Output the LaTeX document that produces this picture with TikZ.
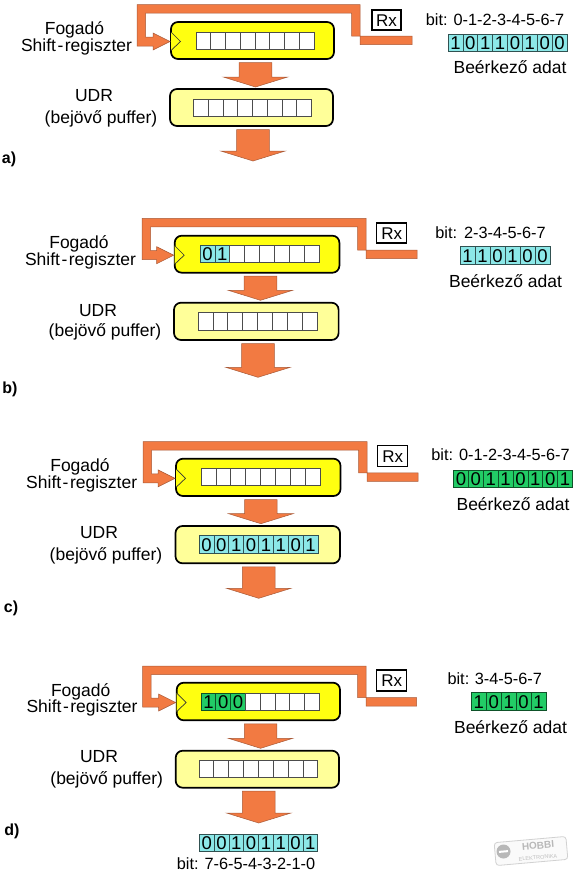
\documentclass[tikz,border=0pt]{standalone}
\usepackage{fontspec}
\setmainfont{Liberation Sans}
\usetikzlibrary{calc}
\definecolor{flow}{HTML}{F27A42}
\definecolor{flowline}{HTML}{A85A38}
\definecolor{regyellow}{HTML}{FFFF10}
\definecolor{udryellow}{HTML}{FFFF99}
\definecolor{cellcyan}{HTML}{8CE8E8}
\definecolor{cellgreen}{HTML}{22CC66}
\tikzset{
  x=1pt,y=-1pt,
  blockarrow/.style={fill=flow,draw=flowline,line width=0.5pt,line join=miter},
  regbase/.style={draw=black,line width=1.7pt,rounded corners=7pt,inner sep=0pt,outer sep=0pt},
  shiftreg/.style={regbase,fill=regyellow},
  udrreg/.style={regbase,fill=udryellow},
  emptycell/.style={fill=white,draw=black!70},
  cyancell/.style={fill=cellcyan,draw=black!65!cellcyan},
  greencell/.style={fill=cellgreen,draw=black!60!cellgreen},
  txt/.style={inner sep=0pt,font=\fontsize{17.5}{20}\selectfont,text height=12.5pt,text depth=0pt},
  bittxt/.style={inner sep=0pt,font=\fontsize{16.3}{18}\selectfont,text height=11.5pt,text depth=0pt},
  tag/.style={inner sep=0pt,font=\fontsize{16}{18}\bfseries\selectfont,text height=11.5pt,text depth=0pt},
  rxbox/.style={draw=black,line width=1.3pt,fill=white,inner sep=0pt,font=\fontsize{17}{20}\selectfont,text height=12pt,text depth=0pt},
  clock/.style={draw=black!80,line width=0.7pt,fill=regyellow}
}
% #1 name, #2-#5 box, #6 style
\newcommand{\regbox}[6]{\node[#6,minimum width={(#4-#2)*1pt},minimum height={(#5-#3)*1pt}] (#1) at ({(#2+#4)/2},{(#3+#5)/2}) {};}
% #1 name #2 x0 #3 y0 #4 x1 #5 y1 #6 style for filled #7 number filled #8 digits
\def\bitcount{8}
\newcommand{\bitrow}[8]{%
  \foreach \d [count=\i from 0] in {#8} {
    \ifnum\i<#7\relax\def\cellst{#6}\else\def\cellst{emptycell}\fi
    \pgfmathsetmacro{\cw}{(#4-#2)/\bitcount}
    \pgfmathsetmacro{\cx}{#2+(\i+0.5)*\cw}
    \node[\cellst,line width=0.7pt,inner sep=0pt,outer sep=0pt,minimum width={\cw*1pt},minimum height={(#5-#3)*1pt},
      font=\fontsize{18.5}{20}\selectfont,text height=13.3pt,text depth=0pt] (#1-\i) at (\cx,{(#3+#5)/2}) {\d};
  }}
% block arrow from a named node down to a named level
\newcommand{\blockdown}[3]{%
  \coordinate (bs) at ($(#1.south)+(#3,3.5)$);
  \coordinate (bt) at (bs |- #2);
  \draw[blockarrow] ($(bs)+(-16.3,0)$) -- ($(bt)+(-16.3,-10)$) -- ($(bt)+(-32.2,-10)$) -- (bt)
    -- ($(bt)+(32.2,-10)$) -- ($(bt)+(16.3,-10)$) -- ($(bs)+(16.3,0)$) -- cycle;
}
% #1 prefix, #2 shift node, #3 outer left, #4 outer top, #5 outer right, #6 bar bottom, #7 free end x
\newcommand{\feed}[7]{%
  \coordinate (#1t) at ($(#2.west)+(-1,1)$);
  \coordinate (#1at) at ($(#1t)+(-17,-4.5)$);
  \coordinate (#1ab) at ($(#1t)+(-17,4.5)$);
  \coordinate (#1ol) at (#3,#4);
  \coordinate (#1il) at ({#3+8.5},{#4+8.5});
  \coordinate (#1or) at (#5,#4);
  \coordinate (#1ir) at ({#5-8.5},{#4+8.5});
  \coordinate (#1be) at (#7,#6);
  \coordinate (#1te) at (#7,{#6-8.5});
  \draw[blockarrow] (#1t) -- ($(#1t)+(-17,-8.5)$) -- (#1at) -- (#1at -| #1il) -- (#1il) -- (#1ir)
    -- (#1ir |- #1te) -- (#1te) -- (#1be) -- (#1or |- #1be) -- (#1or) -- (#1ol)
    -- (#1ol |- #1ab) -- (#1ab) -- ($(#1t)+(-17,8.5)$) -- cycle;
}
\newcommand{\clockmark}[1]{\draw[clock] ($(#1.west)+(0,-8.5)$) -- ($(#1.west)+(9.5,1)$) -- ($(#1.west)+(0,10)$);}
\newcommand{\shiftname}{Shift\kern1.5pt-\kern1.5pt regiszter}
\begin{document}
\begin{tikzpicture}
\useasboundingbox (0,0) rectangle (580,876);
\fill[white] (0,0) rectangle (580,876);

% ---------- a ----------
\regbox{as}{171}{22}{334}{59}{shiftreg}
\regbox{au}{170}{89}{333}{126}{udrreg}
\bitrow{asc}{196}{32}{314}{49}{cyancell}{0}{{},{},{},{},{},{},{},{}}
\bitrow{auc}{193.5}{99}{311.5}{116}{cyancell}{0}{{},{},{},{},{},{},{},{}}
\clockmark{as}
\feed{af}{as}{137}{4.5}{360}{44.5}{412}
\coordinate (aout) at (0,161);
\coordinate (a2) at (0,87);
\blockdown{as}{a2}{3}
\blockdown{au}{aout}{1.5}
\node[txt] (afog) at (74.5,28) {Fogadó};
\node[txt] (ash) at (76.5,45) {\shiftname};
\node[txt] (audr) at (94,95.5) {UDR};
\node[txt] (apuf) at (101,117) {(bejövő puffer)};
\node[tag] (atag) at (9,158) {a)};
\node[rxbox,minimum width=29pt,minimum height=20pt] (arx) at (386.5,20) {Rx};
\node[bittxt] (abit) at (495,20) {bit: 0-1-2-3-4-5-6-7};
\bitrow{ad}{448}{34}{567}{51}{cyancell}{8}{1,0,1,1,0,1,0,0}
\node[txt] (aad) at (510,67) {Beérkező adat};

% ---------- b ----------
\regbox{bs}{174.7}{235.7}{339.4}{272.7}{shiftreg}
\regbox{bu}{174}{302.7}{338.6}{340}{udrreg}
\bitrow{bsc}{200}{245.3}{319}{262.3}{cyancell}{2}{0,1,{},{},{},{},{},{}}
\bitrow{buc}{198}{312.7}{317}{330}{cyancell}{0}{{},{},{},{},{},{},{},{}}
\clockmark{bs}
\feed{bf}{bs}{142}{218.3}{366}{258.7}{417}
\coordinate (bout) at (0,377.3);
\coordinate (b2) at (0,300.3);
\blockdown{bs}{b2}{3.4}
\blockdown{bu}{bout}{1.7}
\node[txt] (bfog) at (79,242.7) {Fogadó};
\node[txt] (bsh) at (80.5,259) {\shiftname};
\node[txt] (budr) at (98,310) {UDR};
\node[txt] (bpuf) at (105,330.7) {(bejövő puffer)};
\node[tag] (btag) at (10,388) {b)};
\node[rxbox,minimum width=30pt,minimum height=20pt] (brx) at (391.7,233) {Rx};
\node[bittxt] (bbit) at (490.5,232.7) {bit:\kern7pt 2-3-4-5-6-7};
\def\bitcount{6}
\bitrow{bd}{460}{246.7}{550}{264}{cyancell}{6}{1,1,0,1,0,0}
\def\bitcount{8}
\node[txt] (bad) at (505.5,281) {Beérkező adat};

% ---------- c ----------
\regbox{cs}{176}{458.7}{340.5}{496}{shiftreg}
\regbox{cu}{175.5}{526}{340}{563.3}{udrreg}
\bitrow{csc}{201}{468.3}{320}{485.7}{cyancell}{0}{{},{},{},{},{},{},{},{}}
\bitrow{cuc}{199}{535.7}{318}{553.7}{cyancell}{8}{0,0,1,0,1,1,0,1}
\clockmark{cs}
\feed{cf}{cs}{143}{441.7}{367}{481.3}{418}
\coordinate (cout) at (0,598.3);
\coordinate (c2) at (0,523.7);
\blockdown{cs}{c2}{2.6}
\blockdown{cu}{cout}{1}
\node[txt] (cfog) at (80,465) {Fogadó};
\node[txt] (csh) at (81.7,482) {\shiftname};
\node[txt] (cudr) at (99,532.7) {UDR};
\node[txt] (cpuf) at (106,554) {(bejövő puffer)};
\node[tag] (ctag) at (11,607) {c)};
\node[rxbox,minimum width=30pt,minimum height=21pt] (crx) at (392.8,456.2) {Rx};
\node[bittxt] (cbit) at (500.5,455) {bit: 0-1-2-3-4-5-6-7};
\bitrow{cd}{453.5}{470}{572.5}{487.3}{greencell}{8}{0,0,1,1,0,1,0,1}
\node[txt] (cad) at (513,504) {Beérkező adat};

% ---------- d ----------
\regbox{ds}{176.7}{682.7}{340}{720.3}{shiftreg}
\regbox{du}{175.7}{750.7}{339}{787.7}{udrreg}
\bitrow{dsc}{201}{693}{319.3}{710.3}{greencell}{3}{1,0,0,{},{},{},{},{}}
\bitrow{duc}{199}{760.7}{317.7}{777.7}{cyancell}{0}{{},{},{},{},{},{},{},{}}
\clockmark{ds}
\feed{df}{ds}{142.7}{666}{366}{706}{416.7}
\coordinate (dout) at (0,823);
\coordinate (d2) at (0,748.3);
\blockdown{ds}{d2}{2.2}
\blockdown{du}{dout}{1.4}
\node[txt] (dfog) at (80.7,690) {Fogadó};
\node[txt] (dsh) at (82,706.7) {\shiftname};
\node[txt] (dudr) at (99,756.7) {UDR};
\node[txt] (dpuf) at (106.7,778.3) {(bejövő puffer)};
\node[tag] (dtag) at (12,830) {d)};
\node[rxbox,minimum width=30pt,minimum height=21pt] (drx) at (391.7,680.5) {Rx};
\node[bittxt] (dbit) at (494.7,678.3) {bit:\kern5.5pt 3-4-5-6-7};
\def\bitcount{5}
\bitrow{dd}{471.3}{692}{546}{710.7}{greencell}{5}{1,0,1,0,1}
\def\bitcount{8}
\node[txt] (dad) at (510.5,727.3) {Beérkező adat};
\bitrow{dr}{199.3}{834.3}{317.7}{851.7}{cyancell}{8}{0,0,1,0,1,1,0,1}
\node[bittxt] (dbot) at (246,863.3) {bit: 7-6-5-4-3-2-1-0};

% ---------- logo ----------
\node[draw=black!18,fill=black!2,line width=0.8pt,rounded corners=3pt,rotate=5,minimum width=72pt,minimum height=23pt,inner sep=0pt] (logo) at (531,851) {};
\node[circle,fill=black!28,minimum size=14pt,inner sep=0pt] (logoc) at (503.5,851.5) {};
\node[fill=white,rotate=5,minimum width=9pt,minimum height=2pt,inner sep=0pt] (logob) at (503.5,851.5) {};
\node[rotate=5,inner sep=0pt,text=black!28,font=\fontsize{10}{10}\bfseries\selectfont] (logot) at (538,845.5) {HOBBI};
\node[rotate=5,inner sep=0pt,text=black!25,font=\fontsize{5.5}{6}\selectfont] (logos) at (538,857.5) {ELEKTRONIKA};
\end{tikzpicture}
\end{document}
